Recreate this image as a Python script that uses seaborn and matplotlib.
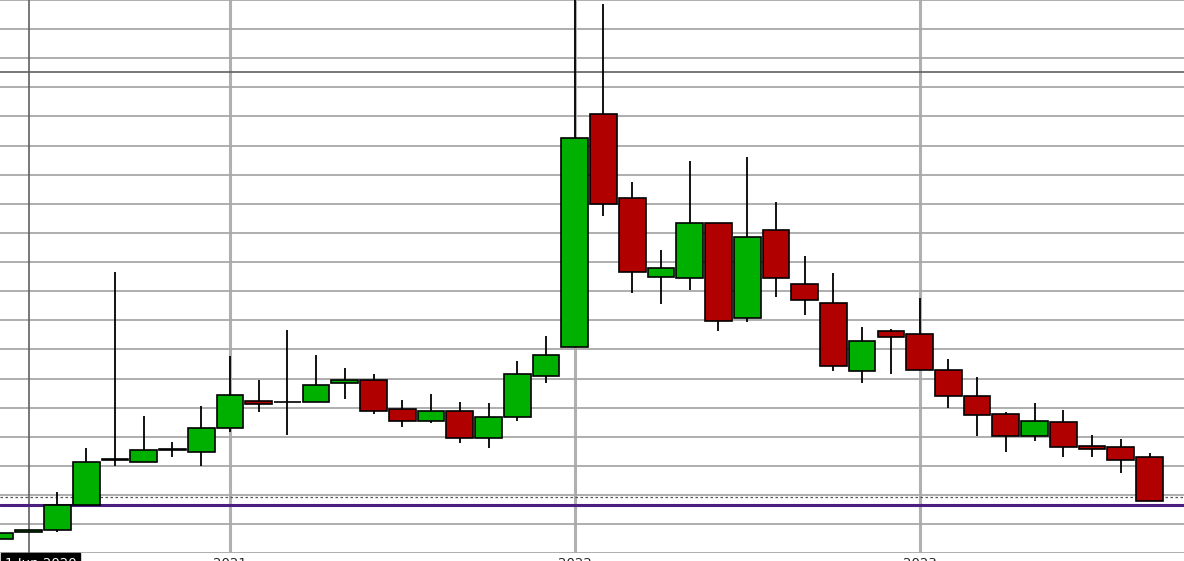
import numpy as np
import pandas as pd
import seaborn as sns

import matplotlib
matplotlib.use('Agg')
import matplotlib.pyplot as plt

# monthly candles, May 2020 .. Sep 2023 (price units)
months = pd.date_range('2020-05-01', periods=41, freq='MS')
opens = [0.48, 0.72, 0.79, 1.66, 3.21, 3.13, 3.55, 3.47, 4.29, 5.22,
         5.19, 5.19, 5.84, 5.94, 4.95, 4.53, 4.88, 3.96, 4.67, 6.08,
         7.07, 15.08, 12.19, 9.48, 9.44, 11.33, 8.07, 11.09, 9.24, 8.59,
         6.25, 7.62, 7.52, 6.28, 5.39, 4.77, 4.02, 4.50, 3.67, 3.64,
         3.30]
highs = [0.69, 0.79, 2.11, 3.62, 9.65, 4.72, 3.82, 5.06, 6.78, 5.95,
         7.67, 6.81, 6.36, 6.16, 5.26, 5.47, 5.20, 5.16, 6.60, 7.46,
         20.5, 18.86, 12.75, 10.42, 13.47, 11.33, 13.61, 12.06, 10.21, 9.63,
         7.77, 7.70, 8.77, 6.67, 6.05, 4.85, 5.16, 4.92, 4.06, 3.93,
         3.44]
lows = [0.48, 0.72, 0.74, 1.66, 3.01, 3.13, 3.32, 3.01, 4.18, 4.86,
        4.07, 5.19, 5.31, 4.79, 4.35, 4.49, 3.80, 3.63, 4.55, 5.86,
        7.07, 11.59, 8.95, 8.57, 9.04, 7.64, 7.95, 8.81, 8.19, 6.27,
        5.86, 6.17, 6.28, 5.00, 4.04, 3.49, 3.87, 3.32, 3.32, 2.77,
        1.79]
closes = [0.69, 0.79, 1.66, 3.12, 3.22, 3.54, 3.56, 4.29, 5.43, 5.12,
          5.20, 5.77, 5.94, 4.88, 4.53, 4.88, 3.96, 4.67, 6.15, 6.80,
          14.25, 11.99, 9.65, 9.79, 11.33, 7.97, 10.85, 9.44, 8.69, 6.42,
          7.28, 7.42, 6.28, 5.40, 4.74, 4.02, 4.53, 3.64, 3.57, 3.19,
          1.79]

support_level = 1.67
dotted_level = 1.92
cursor_level = 16.53
cursor_month = 1
cursor_label = '1 Jun 2020'

df = pd.DataFrame({'month': months, 'open': opens, 'high': highs,
                   'low': lows, 'close': closes})
df['x'] = np.arange(len(df))
df['up'] = df['close'] >= df['open']

sns.set_style('white')
plt.rcParams['font.family'] = ['DejaVu Sans']

fig = plt.figure(figsize=(11.84, 5.61), dpi=100)
ax = fig.add_axes([0, 7.7 / 561, 1, 553.3 / 561])

# wicks
ax.vlines(df['x'], df['low'], df['high'], color='black', linewidth=1.3, zorder=3)

# bodies
body_bottom = df[['open', 'close']].min(axis=1)
body_height = (df['close'] - df['open']).abs().clip(lower=0.02)
colors = np.where(df['up'], '#00b000', '#b00000')
ax.bar(df['x'], body_height, bottom=body_bottom, width=0.93, color=colors,
       edgecolor='black', linewidth=1.2, zorder=4)

# horizontal levels
ax.axhline(support_level, color='#4a1f80', linewidth=2.2, zorder=2)
ax.axhline(dotted_level, color='#555555', linewidth=0.9,
           linestyle=(0, (2, 2)), zorder=2)
ax.axhline(cursor_level, color='#606060', linewidth=1.2, zorder=1)
ax.axvline(cursor_month, color='#606060', linewidth=1.2, zorder=1)

# grid
ax.set_ylim(0, 19)
ax.set_xlim(0, 41.2)
ax.set_yticks(range(0, 20))
ax.set_yticklabels([])
year_pos = df.loc[df['month'].dt.month == 1, 'x'].tolist()
year_lab = [str(d.year) for d in df.loc[df['month'].dt.month == 1, 'month']]
ax.set_xticks(year_pos)
ax.set_xticklabels(year_lab, fontsize=9.5, color='#222222')
ax.tick_params(axis='both', length=0)
ax.tick_params(axis='x', pad=2.5)
ax.tick_params(axis='y', pad=0)
ax.grid(axis='y', color='#a8a8a8', linewidth=1.3, zorder=0)
ax.grid(axis='x', color='#b0b0b0', linewidth=2.2, zorder=0)
ax.set_axisbelow(True)
for s in ax.spines.values():
    s.set_visible(False)

fig.text(0.004, 4.5 / 561, cursor_label, color='white', fontsize=9.5,
         va='top', ha='left',
         bbox=dict(facecolor='black', edgecolor='black', pad=2.5))

fig.savefig('out.png', dpi=100, facecolor='white')
plt.close(fig)
